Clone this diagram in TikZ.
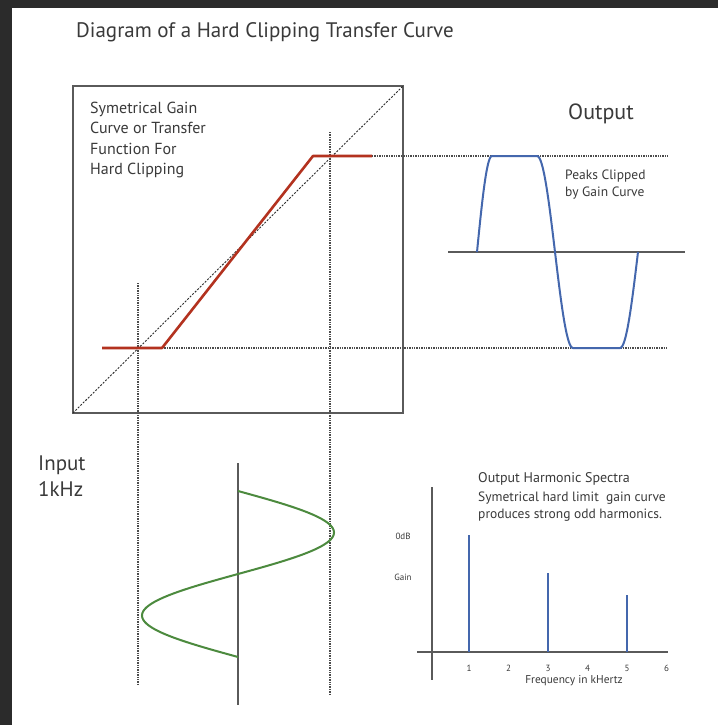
\documentclass[tikz,border=0pt]{standalone}
\usepackage{fontspec}
\setmainfont{PT Sans}
\definecolor{clipdark}{HTML}{2B2B2B}
\definecolor{clipink}{HTML}{3A3A3A}
\definecolor{clipgray}{HTML}{5A5A5A}
\definecolor{clipred}{HTML}{B3321F}
\definecolor{clipblue}{HTML}{4467AD}
\definecolor{clipgreen}{HTML}{4C8A3E}

\begin{document}
\begin{tikzpicture}[x=1pt,y=-1pt,
  guide/.style={clipdark!85,line width=1.6pt,dash pattern=on 1.3pt off 1.1pt},
  axis/.style={clipgray,line width=1.2pt},
  txt/.style={anchor=north west,inner sep=0pt,text=clipink,align=left},
  tick/.style={inner sep=0pt,text=clipink,font=\fontsize{9}{10}\selectfont}]
  % page and dark frame
  \fill[white] (0,0) rectangle (718,725);
  \fill[clipdark] (0,0) rectangle (718,8);
  \fill[clipdark] (0,0) rectangle (12,725);
  \useasboundingbox (0,0) rectangle (718,725);
  \node[txt,font=\fontsize{21}{24}\selectfont] (title) at (76,22) {Diagram of a Hard Clipping Transfer Curve};

  % transfer box
  \coordinate (boxsw) at (73,413);
  \coordinate (boxne) at (403,86);
  \draw[clipgray,line width=1.3pt] (boxsw) rectangle (boxne);
  \draw[clipdark,line width=0.9pt,dash pattern=on 2pt off 1.5pt] (boxsw) -- (boxne);
  \node[txt,font=\fontsize{16}{20.3}\selectfont] (gaintxt) at (90,102)
    {Symetrical Gain\\Curve or Transfer\\Function For\\Hard Clipping};

  % clip points
  \coordinate (lowstart) at (102,348);
  \coordinate (lowclip) at (162,348);
  \coordinate (highclip) at (313,156);
  \coordinate (highend) at (372,156);
  \coordinate (lowguide) at (667,348);
  \coordinate (highguide) at (668,156);
  \draw[guide] (highend) -- (highguide);
  \draw[guide] (lowclip) -- (lowguide);
  \draw[guide] (138,283) -- (138,685);
  \draw[guide] (330,132) -- (330,695);
  \draw[clipred,line width=2.6pt,line join=round] (lowstart) -- (lowclip) -- (highclip) -- (highend);

  % output wave
  \node[txt,font=\fontsize{22}{24}\selectfont] (outtxt) at (568,104) {Output};
  \node[txt,font=\fontsize{13.5}{16.5}\selectfont] (peaktxt) at (565,170) {Peaks Clipped\\by Gain Curve};
  \draw[axis] (448,252) -- (685,252);
  \draw[clipblue,line width=2pt,line join=round]
    plot[domain=0:90,samples=31] ({477+15*\x/90},{252-96*sin(\x)}) -- (537,156)
    -- plot[domain=90:270,samples=61] ({537+36*(\x-90)/180},{252-96*sin(\x)}) -- (620,348)
    -- plot[domain=270:360,samples=31] ({620+18*(\x-270)/90},{252-96*sin(\x)});

  % input wave
  \node[txt,font=\fontsize{21}{26}\selectfont] (intxt) at (38,456) {Input\\1kHz};
  \draw[axis] (238,463) -- (238,705);
  \draw[clipgreen,line width=2pt,domain=0:360,samples=121]
    plot ({238+96*sin(\x)},{491+\x/360*166});

  % harmonic spectra
  \node[txt,font=\fontsize{14}{16}\selectfont] (spectxt) at (478,472) {Output Harmonic Spectra};
  \node[txt,font=\fontsize{13.5}{16.5}\selectfont] (spectxt2) at (478,492)
    {Symetrical hard limit\ \ gain curve\\produces strong odd harmonics.};
  \draw[axis] (432,487) -- (432,680);
  \draw[axis] (417,652) -- (668,652);
  \node[tick] (odb) at (403,536) {0dB};
  \node[tick] (gain) at (403,577) {Gain};
  \foreach \k in {1,...,6}
    \node[tick] (f\k) at ({469+(\k-1)*39.5},668) {\k};
  \foreach \k/\top in {1/535,3/573,5/595}
    \draw[clipblue,line width=2pt] ({469+(\k-1)*39.5},652) -- ({469+(\k-1)*39.5},\top);
  \node[tick,font=\fontsize{11.4}{13}\selectfont] (freq) at (574,681) {Frequency in kHertz};
\end{tikzpicture}
\end{document}
